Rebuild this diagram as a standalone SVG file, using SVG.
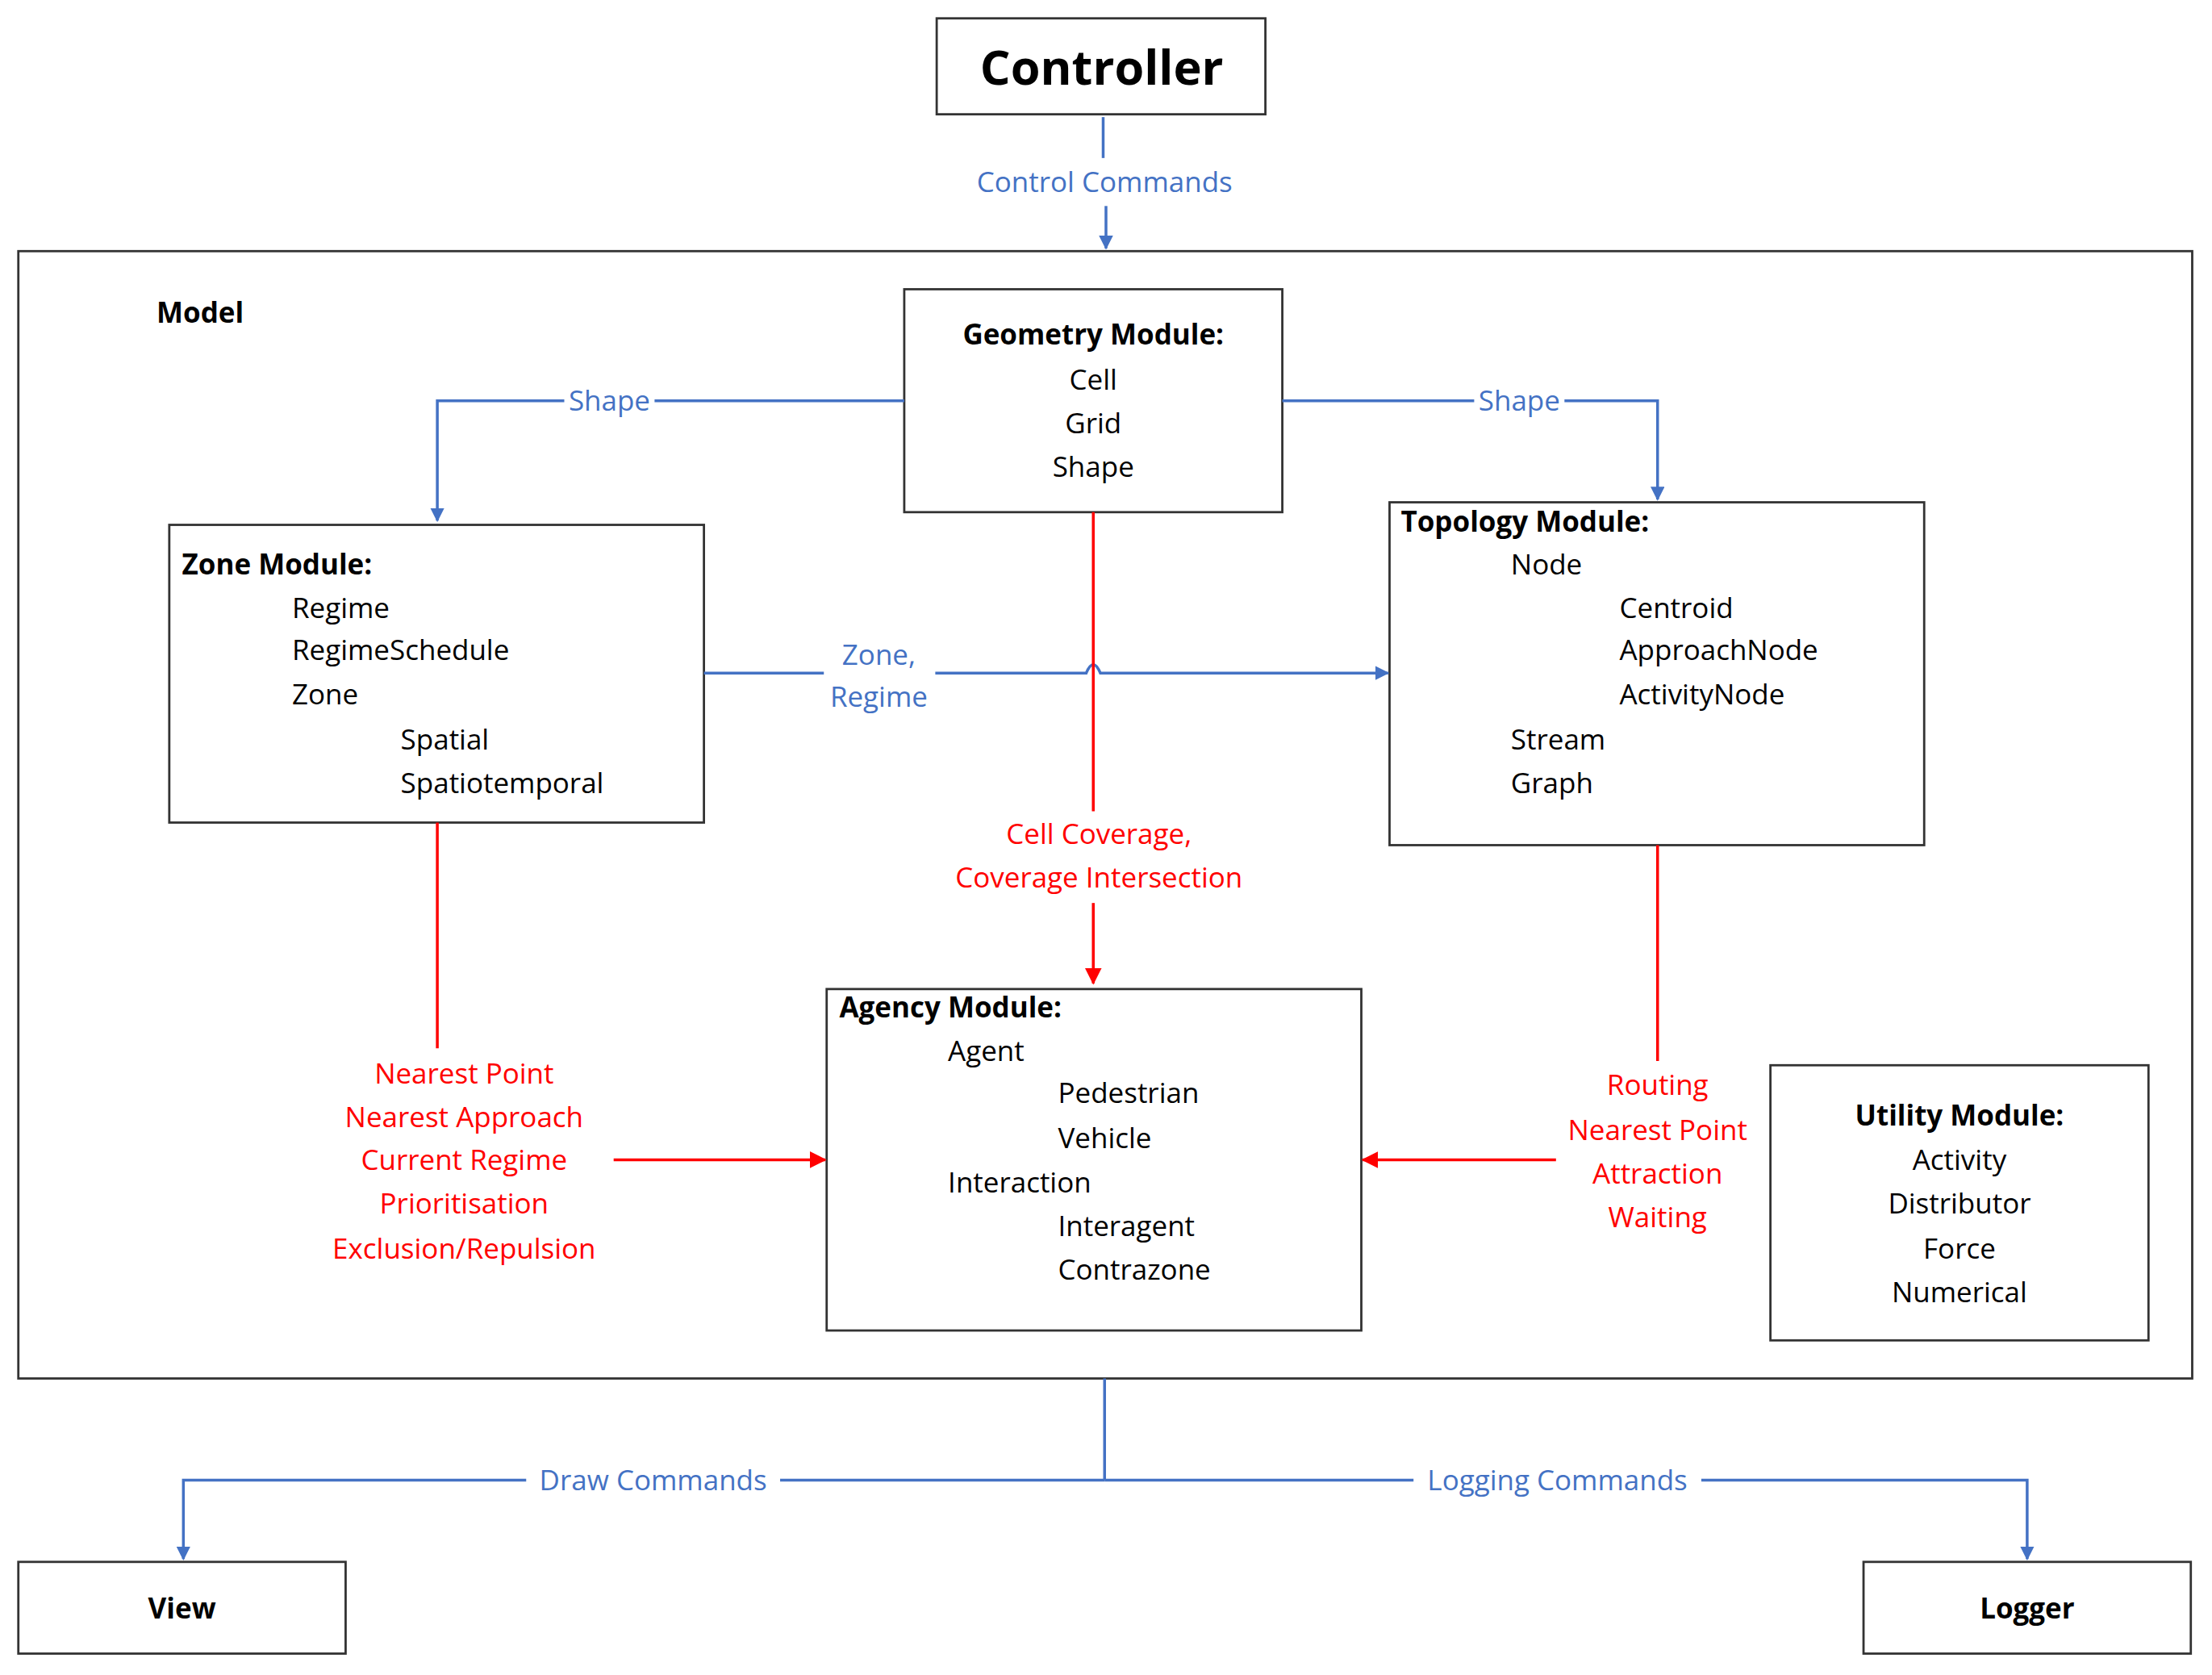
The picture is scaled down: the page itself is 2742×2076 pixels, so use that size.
<svg xmlns="http://www.w3.org/2000/svg" width="2742" height="2076" viewBox="0 0 2742 2076">
<defs>
<style>
text{font-family:"Open Sans","Liberation Sans",sans-serif;font-size:20px;fill:#000}
.b{font-weight:bold}
.c{text-anchor:middle}
.bl{fill:#4472C4}
.rd{fill:#FF0000}
.box{fill:#fff;stroke:#333;stroke-width:1.6}
.lb{fill:none;stroke:#4472C4;stroke-width:2}
.lr{fill:none;stroke:#FF0000;stroke-width:2}
</style>
<marker id="ab" markerWidth="10" markerHeight="10" refX="9" refY="5" orient="auto" markerUnits="userSpaceOnUse" viewBox="0 0 10 10"><path d="M0,0L10,5L0,10z" fill="#4472C4"/></marker>
<marker id="ar" markerWidth="12" markerHeight="12" refX="11" refY="6" orient="auto" markerUnits="userSpaceOnUse" viewBox="0 0 12 12"><path d="M0,0L12,6L0,12z" fill="#FF0000"/></marker>
</defs>
<rect width="2742" height="2076" fill="#fff"/>
<g transform="scale(1.7487)">
<g id="model"><rect class="box" x="13" y="178" width="1541" height="799"/><text class="b" x="111" y="229">Model</text></g>
<g id="controller"><rect class="box" x="664" y="13" width="233" height="68"/><text class="b c" x="781" y="60" style="font-size:34px">Controller</text></g>
<g id="geometry"><rect class="box" x="641" y="205" width="268" height="158"/>
<text class="b c" x="775" y="244">Geometry Module:</text>
<text class="c" x="775" y="276">Cell</text><text class="c" x="775" y="307">Grid</text><text class="c" x="775" y="338">Shape</text></g>
<g id="zone"><rect class="box" x="120" y="372" width="379" height="211"/>
<text class="b" x="129" y="407">Zone Module:</text>
<text x="207" y="438">Regime</text><text x="207" y="468">RegimeSchedule</text><text x="207" y="499">Zone</text>
<text x="284" y="531">Spatial</text><text x="284" y="562">Spatiotemporal</text></g>
<g id="topology"><rect class="box" x="985" y="356" width="379" height="243"/>
<text class="b" x="993" y="377">Topology Module:</text>
<text x="1071" y="407">Node</text><text x="1148" y="438">Centroid</text><text x="1148" y="468">ApproachNode</text><text x="1148" y="499">ActivityNode</text>
<text x="1071" y="531">Stream</text><text x="1071" y="562">Graph</text></g>
<g id="agency"><rect class="box" x="586" y="701" width="379" height="242"/>
<text class="b" x="595" y="721">Agency Module:</text>
<text x="672" y="752">Agent</text><text x="750" y="782">Pedestrian</text><text x="750" y="814">Vehicle</text>
<text x="672" y="845">Interaction</text><text x="750" y="876">Interagent</text><text x="750" y="907">Contrazone</text></g>
<g id="utility"><rect class="box" x="1255" y="755" width="268" height="195"/>
<text class="b c" x="1389" y="798">Utility Module:</text>
<text class="c" x="1389" y="829">Activity</text><text class="c" x="1389" y="860">Distributor</text><text class="c" x="1389" y="892">Force</text><text class="c" x="1389" y="923">Numerical</text></g>
<g id="view"><rect class="box" x="13" y="1107" width="232" height="65"/><text class="b c" x="129" y="1147">View</text></g>
<g id="logger"><rect class="box" x="1321" y="1107" width="232" height="65"/><text class="b c" x="1437" y="1147">Logger</text></g>
<g id="connectors">
<path class="lb" d="M782,83V112"/><path class="lb" d="M784,146V176" marker-end="url(#ab)"/>
<text class="bl c" x="783" y="136">Control Commands</text>
<path class="lb" d="M641,284H310V369" marker-end="url(#ab)"/>
<path class="lb" d="M909,284H1175V354" marker-end="url(#ab)"/>
<rect x="400" y="272" width="64" height="24" fill="#fff"/><text class="bl c" x="432" y="291">Shape</text>
<rect x="1045" y="272" width="64" height="24" fill="#fff"/><text class="bl c" x="1077" y="291">Shape</text>
<path class="lb" d="M499,477H584"/><path class="lb" d="M663,477H770Q775,465 780,477H984" marker-end="url(#ab)"/>
<text class="bl c" x="623" y="471">Zone,</text><text class="bl c" x="623" y="501">Regime</text>
<path class="lr" d="M775,363V575"/><path class="lr" d="M775,640V697" marker-end="url(#ar)"/>
<text class="rd c" x="779" y="598">Cell Coverage,</text><text class="rd c" x="779" y="629">Coverage Intersection</text>
<path class="lr" d="M310,583V743"/><path class="lr" d="M435,822H585" marker-end="url(#ar)"/>
<text class="rd c" x="329" y="768">Nearest Point</text><text class="rd c" x="329" y="799">Nearest Approach</text><text class="rd c" x="329" y="829">Current Regime</text><text class="rd c" x="329" y="860">Prioritisation</text><text class="rd c" x="329" y="892">Exclusion/Repulsion</text>
<path class="lr" d="M1175,599V752"/><path class="lr" d="M1103,822H966" marker-end="url(#ar)"/>
<text class="rd c" x="1175" y="776">Routing</text><text class="rd c" x="1175" y="808">Nearest Point</text><text class="rd c" x="1175" y="839">Attraction</text><text class="rd c" x="1175" y="870">Waiting</text>
<path class="lb" d="M783,977V1049"/>
<path class="lb" d="M783,1049H130V1105" marker-end="url(#ab)"/><path class="lb" d="M783,1049H1437V1105" marker-end="url(#ab)"/>
<rect x="373" y="1037" width="180" height="24" fill="#fff"/><text class="bl c" x="463" y="1056">Draw Commands</text>
<rect x="1002" y="1037" width="204" height="24" fill="#fff"/><text class="bl c" x="1104" y="1056">Logging Commands</text>
</g>
</g>
</svg>
